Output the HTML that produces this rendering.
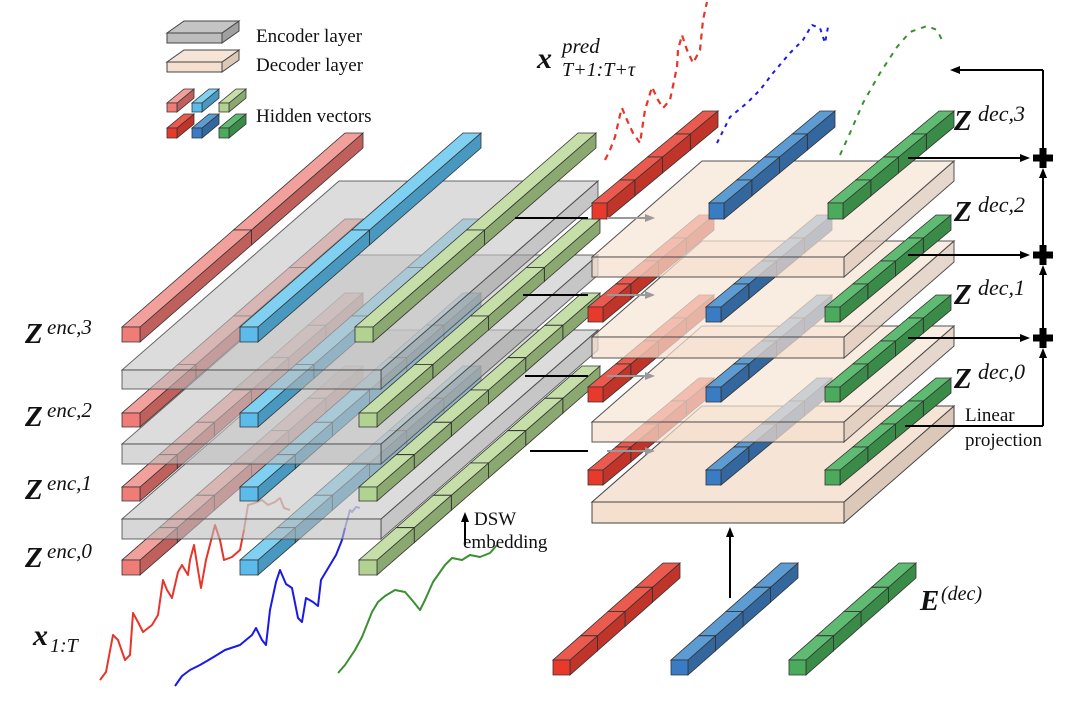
<!DOCTYPE html>
<html><head><meta charset="utf-8"><style>
html,body{margin:0;padding:0;background:#fff;}
svg{display:block;}
.t{font-family:"Liberation Serif",serif;fill:#111;}
</style></head><body>
<svg id="s" width="1080" height="707" viewBox="0 0 1080 707" xmlns="http://www.w3.org/2000/svg">
<g id="g"></g>
<g class="t">
<text x="256" y="42" font-size="19">Encoder layer</text>
<text x="256" y="71" font-size="19">Decoder layer</text>
<text x="256" y="122" font-size="19">Hidden vectors</text>
<text x="537" y="68" font-size="30" font-weight="bold" font-style="italic">x</text>
<text x="562" y="53" font-size="21" font-style="italic">pred</text>
<text x="562" y="76" font-size="20" font-style="italic">T+1:T+τ</text>
<text x="25" y="343" font-size="29" font-weight="bold" font-style="italic">Z</text><text x="47" y="334" font-size="21" font-style="italic">enc,3</text>
<text x="25" y="426" font-size="29" font-weight="bold" font-style="italic">Z</text><text x="47" y="417" font-size="21" font-style="italic">enc,2</text>
<text x="25" y="499" font-size="29" font-weight="bold" font-style="italic">Z</text><text x="47" y="490" font-size="21" font-style="italic">enc,1</text>
<text x="25" y="567" font-size="29" font-weight="bold" font-style="italic">Z</text><text x="47" y="558" font-size="21" font-style="italic">enc,0</text>
<text x="33" y="645" font-size="30" font-weight="bold" font-style="italic">x</text><text x="50" y="652" font-size="20" font-style="italic">1:T</text>
<text x="954" y="130" font-size="29" font-weight="bold" font-style="italic">Z</text><text x="978" y="121" font-size="22" font-style="italic">dec,3</text>
<text x="954" y="221" font-size="29" font-weight="bold" font-style="italic">Z</text><text x="978" y="212" font-size="22" font-style="italic">dec,2</text>
<text x="954" y="304" font-size="29" font-weight="bold" font-style="italic">Z</text><text x="978" y="295" font-size="22" font-style="italic">dec,1</text>
<text x="954" y="388" font-size="29" font-weight="bold" font-style="italic">Z</text><text x="978" y="379" font-size="22" font-style="italic">dec,0</text>
<text x="965" y="421" font-size="19">Linear</text>
<text x="965" y="446" font-size="19">projection</text>
<text x="474" y="525" font-size="19">DSW</text>
<text x="463" y="548" font-size="19">embedding</text>
<text x="920" y="610" font-size="29" font-weight="bold" font-style="italic">E</text><text x="941" y="600" font-size="20" font-style="italic">(dec)</text>
</g>
</svg>
<script>
var g=document.getElementById('g'),NS='http://www.w3.org/2000/svg';
function el(t,a){var e=document.createElementNS(NS,t);for(var k in a)e.setAttribute(k,a[k]);g.appendChild(e);return e;}
function P(pts){return pts.map(function(p){return p[0].toFixed(1)+','+p[1].toFixed(1)}).join(' ');}
function poly(pts,fill,op,sw,stroke){el('polygon',{points:P(pts),fill:fill,'fill-opacity':op==null?1:op,stroke:stroke||'#333','stroke-width':sw||0.8,'stroke-opacity':op==null?1:Math.min(1,op+0.2)});}
function bar(x,y,w,h,D,segs,c,op){
  for(var i=segs-1;i>=0;i--){
    var t0=i/segs,t1=(i+1)/segs;
    var ax=x+D[0]*t0,ay=y+D[1]*t0,bx=x+D[0]*t1,by=y+D[1]*t1;
    poly([[ax+w,ay],[bx+w,by],[bx+w,by+h],[ax+w,ay+h]],c[2],op);
    poly([[ax,ay],[ax+w,ay],[bx+w,by],[bx,by]],c[0],op);
    poly([[ax,ay],[ax+w,ay],[ax+w,ay+h],[ax,ay+h]],c[1],op);
  }
}
function slab(x,y,w,D,th,c,op){
  poly([[x+w,y],[x+w+D[0],y+D[1]],[x+w+D[0],y+D[1]+th],[x+w,y+th]],c[2],op,1,'#444');
  poly([[x,y],[x+w,y],[x+w+D[0],y+D[1]],[x+D[0],y+D[1]]],c[0],op,1,'#444');
  poly([[x,y],[x+w,y],[x+w,y+th],[x,y+th]],c[1],op,1,'#444');
}
function line(x1,y1,x2,y2,col,w){el('line',{x1:x1,y1:y1,x2:x2,y2:y2,stroke:col||'#000','stroke-width':w||2});}
function arrowR(x1,y,x2,col){line(x1,y,x2-8,y,col);el('polygon',{points:(x2)+','+y+' '+(x2-10)+','+(y-4)+' '+(x2-10)+','+(y+4),fill:col||'#000'});}
function arrowL(x1,y,x2,col){line(x1,y,x2+8,y,col);el('polygon',{points:(x2)+','+y+' '+(x2+10)+','+(y-4)+' '+(x2+10)+','+(y+4),fill:col||'#000'});}
function arrowU(x,y1,y2){line(x,y1,x,y2+8);el('polygon',{points:x+','+y2+' '+(x-4)+','+(y2+10)+' '+(x+4)+','+(y2+10),fill:'#000'});}
function curve(pts,col,w,op,dash){el('polyline',{points:P(pts),fill:'none',stroke:col,'stroke-width':w,'stroke-opacity':op||1,'stroke-dasharray':dash||'none','stroke-linejoin':'round'});}
var eR=['#f2a09c','#f07c78','#c0605c'],eB=['#80d0f2','#5bbcec','#4898c0'],eG=['#c6dea8','#b2d292','#8aa870'];
var dR=['#ea5a4e','#e83a2c','#c0342a'],dB=['#5c9cd2','#3a7cc4','#34679e'],dG=['#5fbb72','#4caa5c','#3a8a48'];
var GR=['#c4c4c4','#bdbdbd','#a0a0a0'],PE=['#f6e4d6','#f5dfcf','#dcc8b8'];
// legend
slab(167,33,55,[17,-12],10,GR,1);
slab(167,62,55,[17,-12],10,PE,1);
[[167,eR,dR],[192,eB,dB],[219,eG,dG]].forEach(function(a){bar(a[0],103,10,9,[17,-14],1,a[1],1);bar(a[0],128,10,10,[17,-14],1,a[2],1);});
// encoder
var DE=[223,-194];
curve([[100,680],[106,672],[113,635],[118,640],[125,660],[130,655],[133,613],[138,622],[143,632],[152,625],[158,615],[163,580],[167,590],[172,598],[178,572],[182,565],[188,575],[190,560],[194,545],[198,570],[201,588],[206,560],[215,525],[220,540],[224,560],[232,557],[240,550],[244,530]],'#e8352a',2);
curve([[175,686],[182,676],[190,670],[200,665],[212,658],[225,650],[240,645],[252,635],[256,628],[262,640],[266,645],[270,610],[276,582],[280,570],[286,584],[292,588],[298,618],[302,622],[306,598],[313,602],[318,606],[321,580],[330,565],[336,555],[342,540],[345,528]],'#1a1ae8',2);
curve([[338,673],[345,665],[355,650],[362,637],[372,612],[378,602],[385,596],[395,590],[405,592],[412,600],[420,610],[425,600],[433,582],[445,565],[452,558],[462,560],[470,555],[480,557],[490,553],[497,545]],'#3a9030',2);
bar(122,560,18,15,DE,6,eR,1);bar(240,560,18,15,DE,6,eB,1);bar(359,560,18,15,DE,6,eG,1);
curve([[244,530],[248,505],[255,503],[262,500],[268,505],[275,502],[280,498],[284,508],[290,510]],'#d48880',2);
curve([[345,528],[350,510],[352,512],[356,507],[360,508]],'#8888e8',2);
slab(122,519,259,[217,-189],20,GR,0.6);
bar(122,487,18,14,DE,6,eR,1);bar(240,487,18,14,DE,6,eB,1);bar(359,487,18,14,DE,6,eG,1);
slab(122,444,259,[217,-189],20,GR,0.6);
bar(122,413,18,14,DE,4,eR,1);bar(240,413,18,14,DE,4,eB,1);bar(359,413,18,14,DE,4,eG,1);
slab(122,370,259,[217,-189],19,GR,0.6);
bar(122,327,18,15,DE,2,eR,1);bar(240,327,18,15,DE,2,eB,1);bar(355,327,18,15,DE,2,eG,1);
arrowU(465,545,512);
// decoder
var DD=[111,-92];
slab(592,502,252,[110,-96],21,PE,1);
bar(588,470,15,15,DD,4,dR,1);bar(706,470,15,15,DD,4,dB,1);
slab(592,422,252,[110,-96],20,PE,0.72);
bar(588,387,15,15,DD,4,dR,1);bar(706,387,15,15,DD,4,dB,1);
slab(592,337,252,[110,-96],21,PE,0.72);
bar(588,307,15,15,DD,4,dR,1);bar(706,307,15,15,DD,4,dB,1);
slab(592,257,252,[110,-96],20,PE,0.72);
bar(825,470,15,15,DD,4,dG,1);bar(825,387,15,15,DD,4,dG,1);bar(825,307,15,15,DD,4,dG,1);
bar(592,203,15,16,DD,4,dR,1);bar(709,203,15,16,DD,4,dB,1);bar(828,203,15,16,DD,4,dG,1);
// arrows enc->dec
[[218,515],[295,523],[376,525],[451,530]].forEach(function(a){line(a[1],a[0],588,a[0],'#000',2);arrowR(607,a[0],655,'#999');});
// prediction curves
curve([[605,160],[610,150],[615,137],[620,115],[622,108],[627,120],[633,133],[640,143],[645,110],[652,87],[658,100],[663,108],[670,100],[677,67],[678,50],[682,35],[687,50],[693,63],[700,50],[703,20],[707,2]],'#e8352a',2.2,1,'6,5');
curve([[717,143],[730,117],[747,103],[760,90],[773,73],[790,53],[803,40],[812,25],[820,28],[825,43],[828,27]],'#1a1ae8',2,1,'4,5');
curve([[840,155],[850,133],[863,103],[880,73],[897,47],[910,32],[927,26],[937,30],[942,40]],'#3a9030',2,1,'5,6');
// right side
arrowR(908,158,1030);arrowR(908,255,1030);arrowR(908,338,1030);
line(905,426,1043,426);
arrowU(1043,426,348);arrowU(1043,330,265);arrowU(1043,248,168);
line(1043,150,1043,70);arrowL(1043,70,950);
[158,255,338].forEach(function(y){el('rect',{x:1033,y:y-3.5,width:20,height:7,fill:'#000'});el('rect',{x:1039.5,y:y-10,width:7,height:20,fill:'#000'});});
// E dec
arrowU(730,598,527);
bar(553,660,17,15,[110,-97],4,dR,1);bar(671,660,17,15,[110,-97],4,dB,1);bar(789,660,17,15,[110,-97],4,dG,1);
</script>
</body></html>
